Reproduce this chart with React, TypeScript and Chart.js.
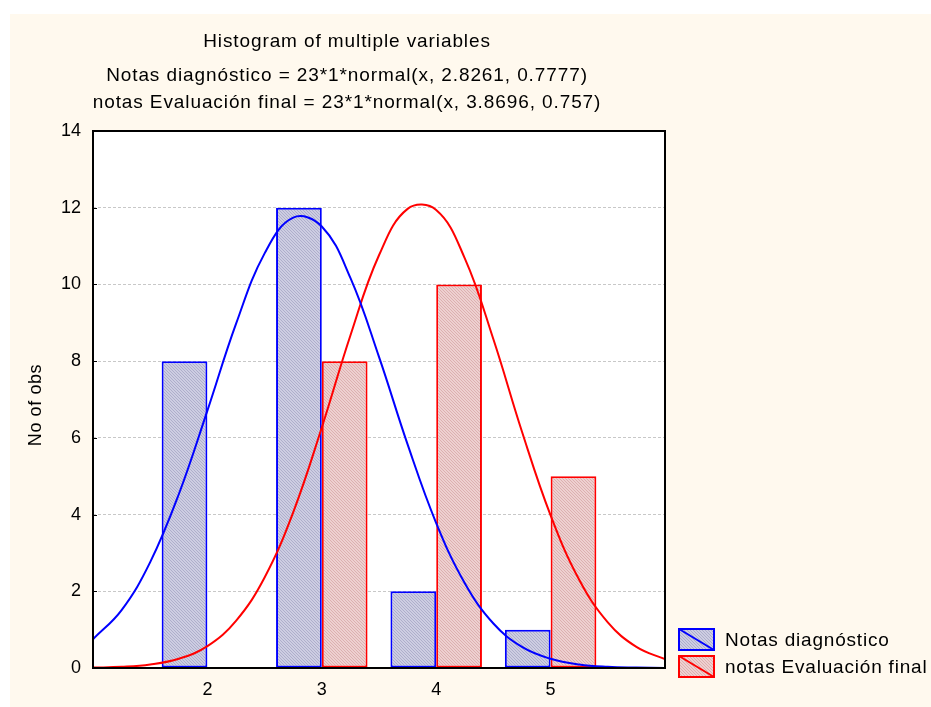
import React, { useEffect, useRef } from "react";
import { Chart, registerables } from "chart.js";

Chart.register(...registerables);

// ---- data ----
const categories = [2, 3, 4, 5];
const diagnosticoCounts = [8, 12, 2, 1];
const evaluacionCounts = [null, 8, 10, 5];
const yTickValues = [0, 2, 4, 6, 8, 10, 12, 14];

const curveX = [1, 1.25, 1.5, 1.75, 2, 2.25, 2.5, 2.75, 3, 3.25, 3.5, 3.75, 4, 4.25, 4.5, 4.75, 5, 5.25, 5.5, 5.75, 6];
const blueCurveY = [0.75, 1.51, 2.76, 4.53, 6.71, 8.97, 10.81, 11.74, 11.51, 10.17, 8.11, 5.83, 3.78, 2.21, 1.16, 0.55, 0.24, 0.09, 0.03, 0.01, 0.0];
const redCurveY = [0.01, 0.03, 0.09, 0.24, 0.57, 1.23, 2.36, 4.06, 6.27, 8.67, 10.76, 11.97, 11.94, 10.68, 8.57, 6.16, 3.98, 2.3, 1.19, 0.55, 0.23];

const titleLines = [
  "Histogram of multiple variables",
  "Notas diagnóstico = 23*1*normal(x, 2.8261, 0.7777)",
  "notas Evaluación final = 23*1*normal(x, 3.8696, 0.757)",
];
const seriesNames = ["Notas diagnóstico", "notas Evaluación final"];
const yAxisTitle = "No of obs";

const FONT = "'Liberation Sans', Arial, sans-serif";
const BLUE = "#0000ff";
const RED = "#ff0000";
const CREAM = "#fff9ee";

function makePattern(base: string, stripe: string): CanvasPattern | string {
  const c = document.createElement("canvas");
  c.width = 3;
  c.height = 3;
  const g = c.getContext("2d");
  if (!g) return base;
  g.fillStyle = base;
  g.fillRect(0, 0, 3, 3);
  g.strokeStyle = stripe;
  g.lineWidth = 1;
  g.beginPath();
  g.moveTo(-1, -1);
  g.lineTo(4, 4);
  g.moveTo(-1, 2);
  g.lineTo(1, 4);
  g.moveTo(2, -1);
  g.lineTo(4, 1);
  g.stroke();
  const p = g.createPattern(c, "repeat");
  return p || base;
}

export default function App() {
  const ref = useRef<HTMLCanvasElement | null>(null);

  useEffect(() => {
    document.body.style.margin = "0";
    document.body.style.overflow = "hidden";
    const canvas = ref.current;
    if (!canvas) return;
    Chart.defaults.font.family = FONT;

    const bluePat = makePattern("#cdcde2", "#aeaecb");
    const redPat = makePattern("#eed0d0", "#dcb0b0");

    const framePlugin = {
      id: "frame",
      beforeDraw(chart: any) {
        const { ctx, chartArea: a, width, height } = chart;
        ctx.save();
        ctx.fillStyle = "#ffffff";
        ctx.fillRect(0, 0, width, height);
        ctx.fillStyle = CREAM;
        ctx.fillRect(10, 14, width - 10, height - 14);
        ctx.fillStyle = "#ffffff";
        ctx.fillRect(a.left, a.top, a.right - a.left, a.bottom - a.top);
        ctx.restore();
      },
      afterDraw(chart: any) {
        const { ctx, chartArea: a } = chart;
        const yScale = chart.scales.y;
        ctx.save();
        // frame
        ctx.strokeStyle = "#000";
        ctx.lineWidth = 2;
        ctx.strokeRect(a.left, a.top, a.right - a.left, a.bottom - a.top);
        // inner small ticks
        ctx.lineWidth = 1;
        yTickValues.forEach((v) => {
          const y = Math.round(yScale.getPixelForValue(v)) + 0.5;
          ctx.beginPath();
          ctx.moveTo(a.left, y);
          ctx.lineTo(a.left + 4, y);
          ctx.stroke();
        });
        // titles
        ctx.fillStyle = "#000";
        ctx.font = `19px ${FONT}`;
        (ctx as any).letterSpacing = "0.9px";
        ctx.textAlign = "center";
        ctx.textBaseline = "middle";
        const ty = [42, 76, 103];
        titleLines.forEach((t, i) => ctx.fillText(t, 347, ty[i]));
        // y axis title
        ctx.save();
        ctx.font = `18px ${FONT}`;
        (ctx as any).letterSpacing = "0.6px";
        ctx.translate(36, 405);
        ctx.rotate(-Math.PI / 2);
        ctx.fillText(yAxisTitle, 0, 0);
        ctx.restore();
        // legend
        const items = [
          { name: seriesNames[0], color: BLUE, fill: bluePat, y: 629 },
          { name: seriesNames[1], color: RED, fill: redPat, y: 656 },
        ];
        items.forEach((it) => {
          const x = 679, w = 35, h = 21;
          ctx.fillStyle = it.fill as any;
          ctx.fillRect(x, it.y, w, h);
          ctx.strokeStyle = it.color;
          ctx.lineWidth = 2;
          ctx.strokeRect(x, it.y, w, h);
          ctx.beginPath();
          ctx.moveTo(x, it.y);
          ctx.lineTo(x + w, it.y + h);
          ctx.stroke();
          ctx.fillStyle = "#000";
          ctx.font = `19px ${FONT}`;
          (ctx as any).letterSpacing = "0.8px";
          ctx.textAlign = "left";
          ctx.textBaseline = "middle";
          ctx.fillText(it.name, 725, it.y + h / 2 + 1);
        });
        ctx.restore();
      },
    };

    const chart = new Chart(canvas, {
      type: "bar",
      data: {
        datasets: [
          {
            type: "line",
            label: seriesNames[0] + " normal",
            data: curveX.map((x, i) => ({ x, y: blueCurveY[i] })),
            borderColor: BLUE,
            borderWidth: 2,
            pointRadius: 0,
            tension: 0.4,
            fill: false,
            order: 0,
          },
          {
            type: "line",
            label: seriesNames[1] + " normal",
            data: curveX.map((x, i) => ({ x, y: redCurveY[i] })),
            borderColor: RED,
            borderWidth: 2,
            pointRadius: 0,
            tension: 0.4,
            fill: false,
            order: 0,
          },
          {
            type: "bar",
            label: seriesNames[0],
            data: categories.map((x, i) => ({ x, y: diagnosticoCounts[i] })),
            backgroundColor: bluePat as any,
            borderColor: BLUE,
            borderWidth: 2,
            borderSkipped: false,
            categoryPercentage: 0.8,
            barPercentage: 1,
            order: 1,
          },
          {
            type: "bar",
            label: seriesNames[1],
            data: categories.map((x, i) => ({ x, y: evaluacionCounts[i] })),
            backgroundColor: redPat as any,
            borderColor: RED,
            borderWidth: 2,
            borderSkipped: false,
            categoryPercentage: 0.8,
            barPercentage: 1,
            order: 1,
          },
        ] as any,
      },
      options: {
        animation: false,
        responsive: false,
        events: [],
        layout: { padding: { left: 40, top: 131, right: 266, bottom: 9 } },
        plugins: {
          legend: { display: false },
          title: { display: false },
          tooltip: { enabled: false },
        },
        scales: {
          x: {
            type: "linear",
            min: 1,
            max: 6,
            offset: false,
            grid: { display: false, offset: false, drawTicks: false },
            border: { display: false },
            afterBuildTicks: (s: any) => {
              s.ticks = categories.map((v) => ({ value: v }));
            },
            afterFit: (s: any) => {
              s.height = 30;
            },
            ticks: {
              color: "#000",
              font: { size: 18, family: FONT },
              padding: 11,
              maxRotation: 0,
              autoSkip: false,
              callback: (v: any) => String(v),
            },
          },
          y: {
            type: "linear",
            min: 0,
            max: 14,
            afterBuildTicks: (s: any) => {
              s.ticks = yTickValues.map((v) => ({ value: v }));
            },
            afterFit: (s: any) => {
              s.width = 53;
            },
            grid: { color: "#c8c8c8", drawTicks: false, lineWidth: 1 },
            border: { display: false, dash: [3, 2] },
            ticks: {
              color: "#000",
              font: { size: 18, family: FONT },
              padding: 12,
              callback: (v: any) => String(v),
            },
          },
        },
      } as any,
      plugins: [framePlugin],
    });

    return () => chart.destroy();
  }, []);

  return (
    <div style={{ width: 931, height: 707, overflow: "hidden" }}>
      <canvas ref={ref} width={931} height={707} style={{ display: "block" }} />
    </div>
  );
}
